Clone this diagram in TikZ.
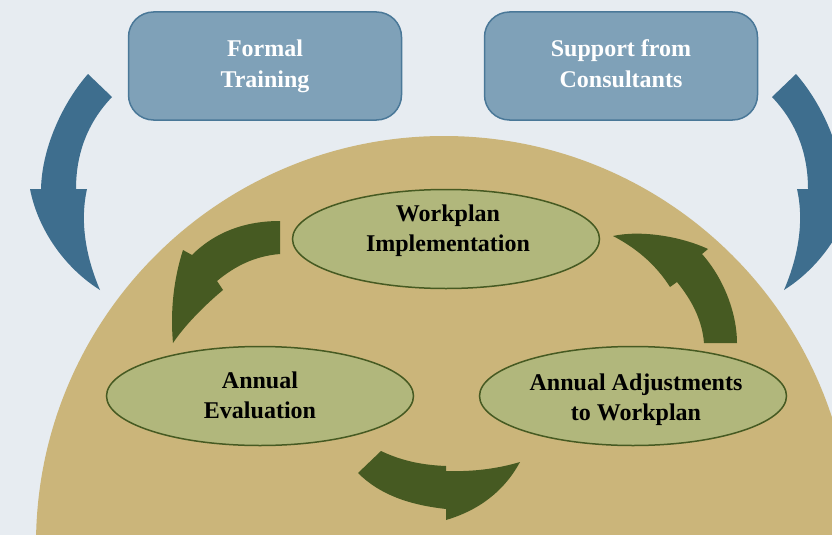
\documentclass[tikz,border=0pt]{standalone}
\usepackage{fontspec}
\setmainfont{Liberation Serif}
\usetikzlibrary{shapes.geometric}
\definecolor{bgc}{HTML}{E7ECF1}
\definecolor{tanc}{HTML}{CBB57A}
\definecolor{bluearr}{HTML}{3E6E8E}
\definecolor{boxfill}{HTML}{7FA1B8}
\definecolor{boxline}{HTML}{4A7898}
\definecolor{ellfill}{HTML}{B1B77C}
\definecolor{greenc}{HTML}{465A22}
\begin{document}
\begin{tikzpicture}[x=1pt,y=-1pt,
  bluebox/.style={draw=boxline,line width=1.5pt,fill=boxfill,rounded corners=25pt,
    minimum width=273pt,minimum height=108pt,inner sep=0pt},
  boxtext/.style={text=white,align=center,
    font=\fontsize{24}{31}\selectfont\bfseries},
  ell/.style={ellipse,draw=greenc,line width=1.5pt,fill=ellfill,
    minimum width=307pt,minimum height=99pt,inner sep=0pt},
  elltext/.style={align=center,text=black,font=\fontsize{24}{30}\selectfont\bfseries},
  barrow/.style={fill=bluearr},
  garrow/.style={fill=greenc}]
\useasboundingbox (0,0) rectangle (832,535);
\clip (0,0) rectangle (832,535);
\fill[bgc] (0,0) rectangle (832,535);
\fill[tanc] (444,544) circle[radius=408];
% blue boxes
\node[bluebox] (ft) at (265,66) {};
\node[bluebox] (sc) at (621,66) {};
\node[boxtext] (ftt) at (265,66) {Formal\\Training};
\node[boxtext] (sct) at (621,64) {Support from\\Consultants};
% blue arrows
\fill[barrow] (88,74) .. controls (65,100) and (42,145) .. (41,189) -- (30,189)
  .. controls (38,230) and (65,268) .. (100,290)
  .. controls (85,255) and (80,220) .. (87,189) -- (76,189)
  .. controls (76,150) and (90,120) .. (112,97) -- cycle;
\begin{scope}[xshift=884pt,xscale=-1]
\fill[barrow] (88,74) .. controls (65,100) and (42,145) .. (41,189) -- (30,189)
  .. controls (38,230) and (65,268) .. (100,290)
  .. controls (85,255) and (80,220) .. (87,189) -- (76,189)
  .. controls (76,150) and (90,120) .. (112,97) -- cycle;
\end{scope}
% ellipses
\node[ell] (wp) at (446,239) {};
\node[ell] (ae) at (260,396) {};
\node[ell] (aa) at (633,396) {};
\node[elltext] (wpt) at (448,231) {Workplan\\Implementation};
\node[elltext] (aet) at (260,395) {Annual\\Evaluation};
\node[elltext] (aat) at (636,400) {Annual Adjustments\\to Workplan};
% green arrows
\fill[garrow] (280,221) -- (280,254) .. controls (255,256) and (235,266) .. (217,281)
  -- (223,290) .. controls (205,305) and (185,325) .. (173,343)
  .. controls (170,310) and (174,278) .. (183,250) -- (192,255)
  .. controls (215,232) and (245,221) .. cycle;
\fill[garrow] (358,473) -- (381,451) .. controls (400,460) and (420,465) .. (446,466)
  -- (446,471) .. controls (475,472) and (500,468) .. (520,462)
  .. controls (505,490) and (480,510) .. (446,520) -- (446,509)
  .. controls (410,505) and (380,495) .. cycle;
\fill[garrow] (704,343) -- (737,343) .. controls (737,315) and (725,280) .. (702,254)
  -- (708,249) .. controls (680,236) and (640,230) .. (613,236)
  .. controls (640,250) and (658,268) .. (670,287) -- (677,282)
  .. controls (690,298) and (702,318) .. cycle;
\end{tikzpicture}
\end{document}
